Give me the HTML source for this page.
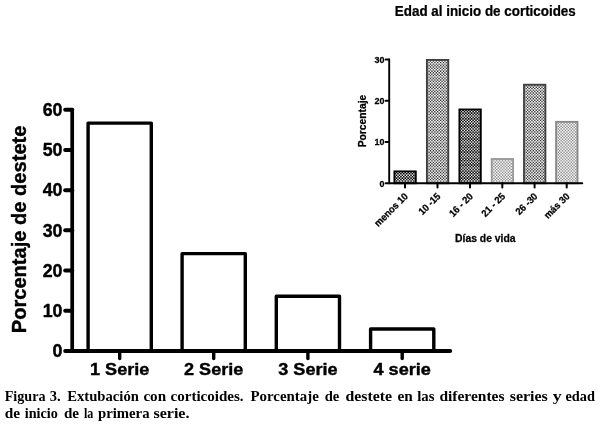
<!DOCTYPE html>
<html><head><meta charset="utf-8"><title>Figura 3</title>
<style>
html,body{margin:0;padding:0;background:#fff;}
body{width:600px;height:427px;overflow:hidden;position:relative;}
svg{position:absolute;left:0;top:0;display:block;}
text{font-family:"Liberation Sans",Arial,sans-serif;font-weight:bold;fill:#000;stroke:#000;stroke-width:0.4px;stroke-linejoin:round;}
.sm text{stroke-width:0.25px;}
.cap,.cap text{stroke:none;font-family:"Liberation Serif","Times New Roman",serif;font-weight:bold;font-size:14px;}
</style></head><body>
<svg width="600" height="427" viewBox="0 0 600 427">
<rect width="600" height="427" fill="#fff"/>

<g stroke="#000" stroke-width="3.2" fill="none" stroke-linecap="round">
<rect x="88.10" y="123.08" width="63.2" height="227.82" fill="#fff" stroke-width="3.4" stroke-linejoin="round"/>
<rect x="182.10" y="253.66" width="63.2" height="97.24" fill="#fff" stroke-width="3.4" stroke-linejoin="round"/>
<rect x="276.30" y="296.26" width="63.2" height="54.64" fill="#fff" stroke-width="3.4" stroke-linejoin="round"/>
<rect x="370.60" y="329.00" width="63.2" height="21.90" fill="#fff" stroke-width="3.4" stroke-linejoin="round"/>
<path stroke-width="3.7" d="M72.2 109.5V350.9"/><path stroke-width="4" d="M72.2 350.9H450.2"/>
<path stroke-width="4" d="M65.2 350.90H72.2"/>
<path stroke-width="4" d="M65.2 310.72H72.2"/>
<path stroke-width="4" d="M65.2 270.54H72.2"/>
<path stroke-width="4" d="M65.2 230.36H72.2"/>
<path stroke-width="4" d="M65.2 190.18H72.2"/>
<path stroke-width="4" d="M65.2 150.00H72.2"/>
<path stroke-width="4" d="M65.2 109.82H72.2"/>
<path stroke-width="3.4" d="M119.7 350.9V358.6"/>
<path stroke-width="3.4" d="M213.7 350.9V358.6"/>
<path stroke-width="3.4" d="M307.9 350.9V358.6"/>
<path stroke-width="3.4" d="M402.2 350.9V358.6"/>
</g>
<text x="62.5" y="357.20" font-size="17.8" text-anchor="end">0</text>
<text x="62.5" y="317.02" font-size="17.8" text-anchor="end">10</text>
<text x="62.5" y="276.84" font-size="17.8" text-anchor="end">20</text>
<text x="62.5" y="236.66" font-size="17.8" text-anchor="end">30</text>
<text x="62.5" y="196.48" font-size="17.8" text-anchor="end">40</text>
<text x="62.5" y="156.30" font-size="17.8" text-anchor="end">50</text>
<text x="62.5" y="116.12" font-size="17.8" text-anchor="end">60</text>
<text transform="translate(119.7 375.3) scale(1.065 1)" font-size="17" text-anchor="middle">1 Serie</text>
<text transform="translate(213.7 375.3) scale(1.065 1)" font-size="17" text-anchor="middle">2 Serie</text>
<text transform="translate(307.9 375.3) scale(1.065 1)" font-size="17" text-anchor="middle">3 Serie</text>
<text transform="translate(402.2 375.3) scale(1.065 1)" font-size="17" text-anchor="middle">4 serie</text>
<text transform="translate(25.7 229.4) rotate(-90)" font-size="20.1" text-anchor="middle">Porcentaje de destete</text>
<g class="sm">
<rect x="394.40" y="171.37" width="21.4" height="11.88" fill="#fff"/>
<g stroke="#000" stroke-width="1.55" stroke-dasharray="1.55 1.340" fill="none"><path d="M395.12 183.25V171.37M398.01 183.25V171.37M400.90 183.25V171.37M403.79 183.25V171.37M406.68 183.25V171.37M409.57 183.25V171.37M412.46 183.25V171.37M415.35 183.25V171.37"/><path stroke-dashoffset="1.445" d="M396.57 183.25V171.37M399.46 183.25V171.37M402.35 183.25V171.37M405.24 183.25V171.37M408.13 183.25V171.37M411.02 183.25V171.37M413.91 183.25V171.37"/></g>
<rect x="394.40" y="171.37" width="21.4" height="11.88" fill="none" stroke="#000" stroke-width="1.85"/>
<rect x="426.90" y="59.94" width="21.4" height="123.31" fill="#fff"/>
<g stroke="#333" stroke-width="1.38" stroke-dasharray="1.38 1.510" fill="none"><path d="M427.62 183.25V59.94M430.51 183.25V59.94M433.40 183.25V59.94M436.29 183.25V59.94M439.18 183.25V59.94M442.07 183.25V59.94M444.96 183.25V59.94M447.85 183.25V59.94"/><path stroke-dashoffset="1.445" d="M429.07 183.25V59.94M431.96 183.25V59.94M434.85 183.25V59.94M437.74 183.25V59.94M440.63 183.25V59.94M443.52 183.25V59.94M446.41 183.25V59.94"/></g>
<rect x="426.90" y="59.94" width="21.4" height="123.31" fill="none" stroke="#3e3e3e" stroke-width="1.85"/>
<rect x="459.40" y="109.46" width="21.4" height="73.79" fill="#fff"/>
<g stroke="#000" stroke-width="1.55" stroke-dasharray="1.55 1.340" fill="none"><path d="M460.12 183.25V109.46M463.01 183.25V109.46M465.90 183.25V109.46M468.79 183.25V109.46M471.68 183.25V109.46M474.57 183.25V109.46M477.46 183.25V109.46M480.35 183.25V109.46"/><path stroke-dashoffset="1.445" d="M461.57 183.25V109.46M464.46 183.25V109.46M467.35 183.25V109.46M470.24 183.25V109.46M473.13 183.25V109.46M476.02 183.25V109.46M478.91 183.25V109.46"/></g>
<rect x="459.40" y="109.46" width="21.4" height="73.79" fill="none" stroke="#000" stroke-width="1.85"/>
<rect x="491.70" y="158.99" width="21.4" height="24.26" fill="#fff"/>
<g stroke="#8e8e8e" stroke-width="1.445" stroke-dasharray="1.445 1.445" fill="none"><path d="M492.42 183.25V158.99M495.31 183.25V158.99M498.20 183.25V158.99M501.09 183.25V158.99M503.98 183.25V158.99M506.87 183.25V158.99M509.76 183.25V158.99M512.65 183.25V158.99"/><path stroke-dashoffset="1.445" d="M493.87 183.25V158.99M496.76 183.25V158.99M499.65 183.25V158.99M502.54 183.25V158.99M505.43 183.25V158.99M508.32 183.25V158.99M511.21 183.25V158.99"/></g>
<rect x="491.70" y="158.99" width="21.4" height="24.26" fill="none" stroke="#9a9a9a" stroke-width="1.85"/>
<rect x="524.00" y="84.70" width="21.4" height="98.55" fill="#fff"/>
<g stroke="#333" stroke-width="1.38" stroke-dasharray="1.38 1.510" fill="none"><path d="M524.72 183.25V84.70M527.61 183.25V84.70M530.50 183.25V84.70M533.39 183.25V84.70M536.28 183.25V84.70M539.17 183.25V84.70M542.06 183.25V84.70M544.95 183.25V84.70"/><path stroke-dashoffset="1.445" d="M526.17 183.25V84.70M529.06 183.25V84.70M531.95 183.25V84.70M534.84 183.25V84.70M537.73 183.25V84.70M540.62 183.25V84.70M543.51 183.25V84.70"/></g>
<rect x="524.00" y="84.70" width="21.4" height="98.55" fill="none" stroke="#404040" stroke-width="1.85"/>
<rect x="556.10" y="121.84" width="21.4" height="61.41" fill="#fff"/>
<g stroke="#8e8e8e" stroke-width="1.445" stroke-dasharray="1.445 1.445" fill="none"><path d="M556.82 183.25V121.84M559.71 183.25V121.84M562.60 183.25V121.84M565.49 183.25V121.84M568.38 183.25V121.84M571.27 183.25V121.84M574.16 183.25V121.84M577.05 183.25V121.84"/><path stroke-dashoffset="1.445" d="M558.27 183.25V121.84M561.16 183.25V121.84M564.05 183.25V121.84M566.94 183.25V121.84M569.83 183.25V121.84M572.72 183.25V121.84M575.61 183.25V121.84"/></g>
<rect x="556.10" y="121.84" width="21.4" height="61.41" fill="none" stroke="#888" stroke-width="1.85"/>
<g stroke="#000" stroke-width="1.9" fill="none" stroke-linecap="round">
<path d="M389.2 59.44V183.25H582.3"/>
<path d="M385.6 183.25H389.2"/>
<path d="M385.6 141.98H389.2"/>
<path d="M385.6 100.71H389.2"/>
<path d="M385.6 59.44H389.2"/>
<path stroke-width="2" d="M405.0 183.25V187.4"/>
<path stroke-width="2" d="M437.5 183.25V187.4"/>
<path stroke-width="2" d="M470.0 183.25V187.4"/>
<path stroke-width="2" d="M502.3 183.25V187.4"/>
<path stroke-width="2" d="M534.6 183.25V187.4"/>
<path stroke-width="2" d="M566.7 183.25V187.4"/>
</g>
<text transform="translate(384.5 186.75) scale(0.945 1)" font-size="9.5" text-anchor="end">0</text>
<text transform="translate(384.5 145.48) scale(0.945 1)" font-size="9.5" text-anchor="end">10</text>
<text transform="translate(384.5 104.21) scale(0.945 1)" font-size="9.5" text-anchor="end">20</text>
<text transform="translate(384.5 62.94) scale(0.945 1)" font-size="9.5" text-anchor="end">30</text>
<text transform="translate(408.6 197) rotate(-45) scale(0.93 1)" font-size="10" text-anchor="end">menos 10</text>
<text transform="translate(441.1 197) rotate(-45) scale(0.93 1)" font-size="10" text-anchor="end">10 -15</text>
<text transform="translate(473.6 197) rotate(-45) scale(0.93 1)" font-size="10" text-anchor="end">16 - 20</text>
<text transform="translate(505.9 197) rotate(-45) scale(0.93 1)" font-size="10" text-anchor="end">21 - 25</text>
<text transform="translate(538.2 197) rotate(-45) scale(0.93 1)" font-size="10" text-anchor="end">26 -30</text>
<text transform="translate(570.3 197) rotate(-45) scale(0.93 1)" font-size="10" text-anchor="end">más 30</text>
<text transform="translate(365.7 121) rotate(-90) scale(1.03 1)" font-size="10" text-anchor="middle">Porcentaje</text>
<text transform="translate(485.3 242) scale(1.036 1)" font-size="10" text-anchor="middle">Días de vida</text>
<text transform="translate(485.3 16.2) scale(0.972 1)" font-size="13.8" text-anchor="middle">Edad al inicio de corticoides</text>
</g>
<g class="cap">
<text x="4.7" y="400.5" textLength="40.9" lengthAdjust="spacingAndGlyphs">Figura</text>
<text x="49.7" y="400.5" textLength="10.9" lengthAdjust="spacingAndGlyphs">3.</text>
<text x="67.2" y="400.5" textLength="71.7" lengthAdjust="spacingAndGlyphs">Extubación</text>
<text x="143.4" y="400.5" textLength="22.7" lengthAdjust="spacingAndGlyphs">con</text>
<text x="170.5" y="400.5" textLength="73.1" lengthAdjust="spacingAndGlyphs">corticoides.</text>
<text x="250.5" y="400.5" textLength="68.3" lengthAdjust="spacingAndGlyphs">Porcentaje</text>
<text x="324.7" y="400.5" textLength="14.6" lengthAdjust="spacingAndGlyphs">de</text>
<text x="345.5" y="400.5" textLength="46.5" lengthAdjust="spacingAndGlyphs">destete</text>
<text x="397.5" y="400.5" textLength="15.3" lengthAdjust="spacingAndGlyphs">en</text>
<text x="417.2" y="400.5" textLength="17.3" lengthAdjust="spacingAndGlyphs">las</text>
<text x="439.4" y="400.5" textLength="65.1" lengthAdjust="spacingAndGlyphs">diferentes</text>
<text x="509.7" y="400.5" textLength="38.1" lengthAdjust="spacingAndGlyphs">series</text>
<text x="552.7" y="400.5" textLength="8.9" lengthAdjust="spacingAndGlyphs">y</text>
<text x="565.5" y="400.5" textLength="29.5" lengthAdjust="spacingAndGlyphs">edad</text>
<text x="4.7" y="417.5" textLength="15.3" lengthAdjust="spacingAndGlyphs">de</text>
<text x="24.7" y="417.5" textLength="33.1" lengthAdjust="spacingAndGlyphs">inicio</text>
<text x="63.9" y="417.5" textLength="15.1" lengthAdjust="spacingAndGlyphs">de</text>
<text x="83.9" y="417.5" textLength="9.4" lengthAdjust="spacingAndGlyphs">la</text>
<text x="98.0" y="417.5" textLength="51.5" lengthAdjust="spacingAndGlyphs">primera</text>
<text x="153.4" y="417.5" textLength="36.1" lengthAdjust="spacingAndGlyphs">serie.</text>
</g>
</svg></body></html>
